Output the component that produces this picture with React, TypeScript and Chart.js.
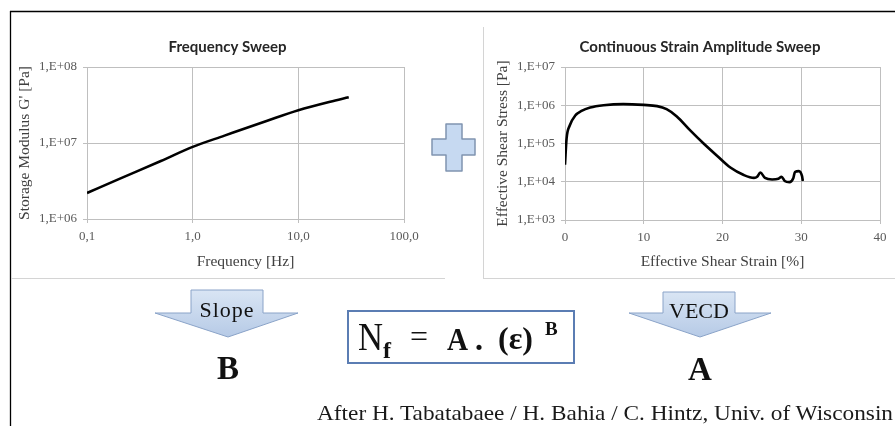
import React, { useEffect, useRef } from "react";
import { Chart, registerables } from "chart.js";

Chart.register(...registerables);

// ---- Frequency sweep (left chart) ----
const freqHz = [0.1, 0.2, 0.5, 1, 2, 5, 10, 20, 30];
const storageModulus = [2.2e6, 3.35e6, 5.8e6, 8.9e6, 1.25e7, 1.95e7, 2.7e7, 3.5e7, 4.0e7];
const freqTicks = [0.1, 1, 10, 100];
const freqTickLabels = ["0,1", "1,0", "10,0", "100,0"];
const modulusTicks = [1e6, 1e7, 1e8];
const modulusTickLabels = ["1,E+06", "1,E+07", "1,E+08"];

// ---- Continuous strain amplitude sweep (right chart) ----
const strainPct = [0, 0.2, 0.6, 1.3, 2.1, 3.2, 4.9, 7.4, 10, 11.7, 12.9, 14.2, 15.9, 17.6, 19.3, 21, 22.7, 24, 24.4, 24.8, 25.4, 26.3, 27.1, 27.5, 27.9, 28.5, 29.0, 29.2, 29.7, 30.1, 30.2];
const shearStress = [2.8e4, 1.35e5, 2.95e5, 5.4e5, 7.1e5, 8.7e5, 1.0e6, 1.07e6, 1.02e6, 9.5e5, 7.9e5, 5.1e5, 2.2e5, 1.0e5, 4.8e4, 2.35e4, 1.5e4, 1.26e4, 1.35e4, 1.74e4, 1.26e4, 1.15e4, 1.2e4, 1.35e4, 1.05e4, 9.8e3, 1.26e4, 1.8e4, 1.9e4, 1.4e4, 1.05e4];
const strainTicks = [0, 10, 20, 30, 40];
const strainTickLabels = ["0", "10", "20", "30", "40"];
const stressTicks = [1e3, 1e4, 1e5, 1e6, 1e7];
const stressTickLabels = ["1,E+03", "1,E+04", "1,E+05", "1,E+06", "1,E+07"];

const GRID = "#bfbfbf";
const TICK_COLOR = "#595959";
const AXIS_TITLE_COLOR = "#404040";
const SERIF = "'Liberation Serif', 'DejaVu Serif', serif";

type Cfg = {
  title: string;
  xType: "logarithmic" | "linear";
  xMin: number; xMax: number; xTicks: number[]; xLabels: string[]; xTitle: string;
  yMin: number; yMax: number; yTicks: number[]; yLabels: string[]; yTitle: string;
  xs: number[]; ys: number[];
  yWidth: number; y2Width: number; yTitlePad: number; xHeight: number;
  tension: number;
};

function makeChart(canvas: HTMLCanvasElement, c: Cfg) {
  return new Chart(canvas, {
    type: "line",
    data: {
      datasets: [
        {
          data: c.xs.map((x, i) => ({ x, y: c.ys[i] })),
          borderColor: "#000",
          borderWidth: 2.6,
          pointRadius: 0,
          fill: false,
          tension: c.tension,
          cubicInterpolationMode: "monotone",
        },
      ],
    },
    options: {
      animation: false,
      responsive: false,
      maintainAspectRatio: false,
      layout: { padding: 0 },
      plugins: {
        legend: { display: false },
        tooltip: { enabled: false },
        title: {
          display: true,
          text: c.title,
          color: "#262626",
          font: { family: "Lato, 'Liberation Sans', sans-serif", size: 15, weight: "bold" },
          padding: { top: 38, bottom: 11 },
        },
      },
      scales: {
        x: {
          type: c.xType,
          min: c.xMin,
          max: c.xMax,
          afterBuildTicks: (s: any) => {
            s.ticks = c.xTicks.map((v) => ({ value: v }));
          },
          afterFit: (s: any) => {
            s.height = c.xHeight;
          },
          ticks: {
            autoSkip: false,
            maxRotation: 0,
            padding: 6,
            color: TICK_COLOR,
            font: { family: SERIF, size: 13 },
            callback: (_v: any, i: number) => c.xLabels[i],
          },
          grid: { color: GRID, lineWidth: 1, tickLength: 4 },
          border: { color: GRID, width: 1 },
          title: {
            display: true,
            text: c.xTitle,
            color: AXIS_TITLE_COLOR,
            font: { family: SERIF, size: 15.5 },
            padding: { top: 0, bottom: 6.7 },
          },
        },
        y: {
          type: "logarithmic",
          min: c.yMin,
          max: c.yMax,
          afterBuildTicks: (s: any) => {
            s.ticks = c.yTicks.map((v) => ({ value: v }));
          },
          afterFit: (s: any) => {
            s.width = c.yWidth;
          },
          ticks: {
            autoSkip: false,
            padding: 6,
            color: TICK_COLOR,
            font: { family: SERIF, size: 13 },
            callback: (_v: any, i: number) => c.yLabels[i],
          },
          grid: { color: GRID, lineWidth: 1, tickLength: 4 },
          border: { color: GRID, width: 1 },
          title: {
            display: true,
            text: c.yTitle,
            color: AXIS_TITLE_COLOR,
            font: { family: SERIF, size: 15.5 },
            padding: { top: c.yTitlePad, bottom: 0 },
          },
        },
        y2: {
          type: "linear",
          position: "right",
          display: true,
          grid: { display: false, drawOnChartArea: false },
          ticks: { display: false },
          border: { display: false },
          afterFit: (s: any) => {
            s.width = c.y2Width;
          },
        },
      },
    } as any,
  });
}

export default function App() {
  const leftRef = useRef<HTMLCanvasElement>(null);
  const rightRef = useRef<HTMLCanvasElement>(null);

  useEffect(() => {
    const left = makeChart(leftRef.current!, {
      title: "Frequency Sweep",
      xType: "logarithmic",
      xMin: 0.1, xMax: 100, xTicks: freqTicks, xLabels: freqTickLabels, xTitle: "Frequency [Hz]",
      yMin: 1e6, yMax: 1e8, yTicks: modulusTicks, yLabels: modulusTickLabels, yTitle: "Storage Modulus G' [Pa]",
      xs: freqHz, ys: storageModulus,
      yWidth: 77, y2Width: 41, yTitlePad: 5.7, xHeight: 59,
      tension: 0.4,
    });
    const right = makeChart(rightRef.current!, {
      title: "Continuous Strain Amplitude Sweep",
      xType: "linear",
      xMin: 0, xMax: 40, xTicks: strainTicks, xLabels: strainTickLabels, xTitle: "Effective Shear Strain [%]",
      yMin: 1e3, yMax: 1e7, yTicks: stressTicks, yLabels: stressTickLabels, yTitle: "Effective Shear Stress [Pa]",
      xs: strainPct, ys: shearStress,
      yWidth: 82, y2Width: 37, yTitlePad: 10.7, xHeight: 58,
      tension: 0.4,
    });
    return () => {
      left.destroy();
      right.destroy();
    };
  }, []);

  return (
    <div style={{ position: "absolute", left: 0, top: 0, width: 895, height: 426, overflow: "hidden", background: "#fff" }}>
      <canvas ref={leftRef} width={435} height={278} style={{ position: "absolute", left: 10, top: 0, width: 435, height: 278 }} />
      <canvas ref={rightRef} width={434} height={278} style={{ position: "absolute", left: 483, top: 0, width: 434, height: 278 }} />
      <svg width={895} height={426} style={{ position: "absolute", left: 0, top: 0, pointerEvents: "none" }}>
        <defs>
          <linearGradient id="arrowFill" x1="0" y1="0" x2="0" y2="1">
            <stop offset="0" stopColor="#d9e5f4" />
            <stop offset="1" stopColor="#b6cae6" />
          </linearGradient>
        </defs>
        {/* outer frame */}
        <line x1={10} y1={11.5} x2={895} y2={11.5} stroke="#000" strokeWidth={1.3} />
        <line x1={10.5} y1={11} x2={10.5} y2={426} stroke="#000" strokeWidth={1.3} />
        {/* panel borders */}
        <line x1={11} y1={278.5} x2={445} y2={278.5} stroke="#d4d4d4" strokeWidth={1} />
        <line x1={483.5} y1={27} x2={483.5} y2={278} stroke="#d4d4d4" strokeWidth={1} />
        <line x1={483} y1={278.5} x2={895} y2={278.5} stroke="#d4d4d4" strokeWidth={1} />
        {/* plus sign */}
        <polygon
          points="446,124 462,124 462,139 475,139 475,155 462,155 462,171 446,171 446,155 432,155 432,139 446,139"
          fill="#c6d9f1" stroke="#8094b0" strokeWidth={1.5} strokeLinejoin="round"
        />
        {/* Slope arrow */}
        <polygon
          points="191,290 263,290 263,313 298,313 228,337 155,313 191,313"
          fill="url(#arrowFill)" stroke="#8aa3c8" strokeWidth={1}
        />
        <text x={227} y={317} textAnchor="middle" fontFamily={SERIF} fontSize={22} fill="#111" letterSpacing={1}>Slope</text>
        <text x={228} y={379} textAnchor="middle" fontFamily={SERIF} fontSize={33} fontWeight="bold" fill="#111">B</text>
        {/* VECD arrow */}
        <polygon
          points="663,292 735,292 735,313 771,313 700,337 629,313 663,313"
          fill="url(#arrowFill)" stroke="#8aa3c8" strokeWidth={1}
        />
        <text x={699} y={318} textAnchor="middle" fontFamily={SERIF} fontSize={22} fill="#111">VECD</text>
        <text x={700} y={380} textAnchor="middle" fontFamily={SERIF} fontSize={33} fontWeight="bold" fill="#111">A</text>
        {/* formula box */}
        <rect x={348} y={311} width={226} height={52} fill="#fff" stroke="#5b7db3" strokeWidth={2} />
        <text x={358} y={350} fontFamily={SERIF} fontSize={39} fill="#111" textLength={25} lengthAdjust="spacingAndGlyphs">N</text>
        <text x={383} y={358} fontFamily={SERIF} fontSize={24} fontWeight="bold" fill="#111">f</text>
        <text x={410} y={347} fontFamily={SERIF} fontSize={32} fill="#111">=</text>
        <text x={447} y={350} fontFamily={SERIF} fontSize={32} fontWeight="bold" fill="#111" textLength={21} lengthAdjust="spacingAndGlyphs">A</text>
        <text x={475} y={350} fontFamily={SERIF} fontSize={32} fontWeight="bold" fill="#111">.</text>
        <text x={498} y={349} fontFamily={SERIF} fontSize={32} fontWeight="bold" fill="#111" textLength={35} lengthAdjust="spacingAndGlyphs">(ε)</text>
        <text x={545} y={335} fontFamily={SERIF} fontSize={19} fontWeight="bold" fill="#111">B</text>
        {/* attribution */}
        <text x={317} y={420} fontFamily={SERIF} fontSize={22} fill="#1a1a1a" textLength={576} lengthAdjust="spacingAndGlyphs">After H. Tabatabaee / H. Bahia / C. Hintz, Univ. of Wisconsin</text>
      </svg>
    </div>
  );
}
